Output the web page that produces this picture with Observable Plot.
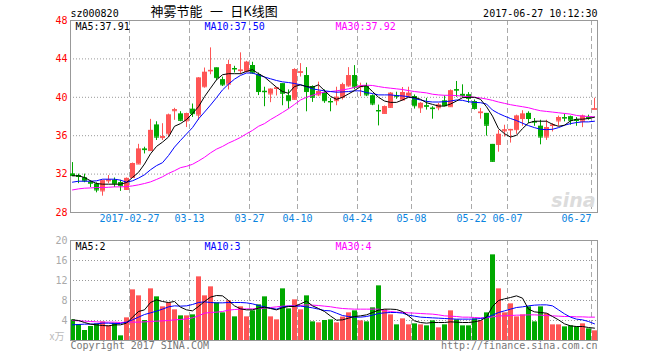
<!DOCTYPE html>
<html><head><meta charset="utf-8">
<script src="https://cdn.jsdelivr.net/npm/d3@7"></script>
<script src="https://cdn.jsdelivr.net/npm/@observablehq/plot@0.6"></script>
<style>
html,body{margin:0;padding:0;background:#fff;}
#wrap{position:relative;width:660px;height:360px;overflow:hidden;background:#fff;}
#price,#vol{position:absolute;left:0;}
#price{top:0;} #vol{top:230px;}
</style></head><body>
<div id="wrap"><div id="price"></div><div id="vol"></div></div>
<script>
// ---- data ----
const dateIndex = [10, 20, 30, 38, 48, 57, 67, 73, 87];
const dateLabels = ["2017-02-27", "03-13", "03-27", "04-10", "04-24", "05-08", "05-22", "06-07", "06-27"];
const priceTicks = [28, 32, 36, 40, 44, 48];
const priceGrid = [32, 36, 40, 44];
const volTicks = [4, 8, 12, 16, 20];
const volGrid = [4, 8, 12, 16];

const open = [32.0,31.85,31.6,31.15,30.95,30.25,31.3,31.35,31.1,30.4,
31.65,33.05,34.6,34.45,37.1,35.8,36.2,38.6,38.25,37.55,
38.75,38.15,41.1,42.75,43.05,41.82,41.37,43.0,42.78,42.7,
43.3,42.35,40.62,40.35,40.92,41.4,40.14,39.79,42.6,42.25,
41.12,40.25,40.49,39.56,39.65,40.0,41.19,42.25,41.1,41.12,
40.14,38.62,38.32,38.95,40.16,39.72,40.14,40.07,38.91,39.11,
38.86,38.91,39.61,39.02,40.79,40.3,40.25,39.54,38.4,38.32,
35.09,35.09,36.5,36.6,36.63,37.79,38.32,37.46,36.98,35.86,
37.06,37.54,37.88,37.96,37.63,37.51,37.88,38.75];
const close = [31.85,31.75,31.3,31.05,30.35,31.3,31.38,31.0,30.8,31.55,
33.1,34.6,34.55,36.55,35.85,35.9,38.15,38.7,37.6,38.3,
38.3,42.0,42.6,42.8,42.05,41.3,43.4,42.95,42.83,43.65,
42.53,40.6,40.58,40.84,40.97,40.42,39.65,42.88,42.65,40.6,
40.0,40.6,39.65,39.52,40.0,41.3,42.25,41.05,41.15,40.25,
39.3,38.58,39.02,40.42,40.12,40.49,40.42,39.12,39.37,39.07,
38.82,39.19,39.12,40.67,40.75,40.2,39.89,38.84,38.45,37.09,
33.33,36.14,36.6,36.65,38.04,38.25,37.79,37.42,35.86,36.84,
37.1,37.89,37.84,37.61,37.59,38.04,37.84,38.8];
const high = [33.2,32.0,32.0,31.3,31.1,31.35,31.85,31.6,31.35,31.6,
33.15,35.1,34.8,37.7,37.45,37.25,38.25,38.85,38.5,38.35,
39.3,42.05,43.05,45.15,43.05,42.1,43.86,43.23,44.63,43.75,
43.65,42.53,41.05,40.88,41.02,41.4,40.77,42.98,43.51,43.09,
41.19,41.58,40.77,39.89,41.05,41.47,43.09,43.3,41.47,41.47,
40.25,39.19,39.09,40.49,40.53,41.02,41.05,40.25,39.44,39.89,
39.02,39.37,40.14,40.77,41.65,41.3,40.49,39.72,38.84,38.32,
35.09,36.56,37.09,36.66,38.14,38.6,38.49,37.79,37.61,37.61,
37.26,38.04,38.25,38.04,37.89,38.14,38.14,39.9];
const low = [31.75,31.0,31.1,30.6,30.05,29.7,31.0,30.6,30.2,30.3,
31.6,33.0,34.1,34.4,35.5,35.5,35.85,37.6,37.45,36.85,
37.9,37.6,40.95,42.35,41.75,41.12,40.77,42.53,42.35,42.53,
42.4,40.18,39.02,39.44,40.14,39.12,38.77,39.72,42.11,38.49,
39.47,40.07,39.37,38.49,39.12,39.72,41.05,40.77,40.07,40.07,
39.12,37.02,38.25,38.84,39.79,39.65,40.0,38.77,38.32,38.67,
37.72,38.6,39.02,38.95,40.0,39.89,39.37,38.67,37.72,35.96,
33.23,34.28,35.86,35.23,36.14,36.98,37.26,36.98,35.05,35.51,
36.39,36.98,37.44,37.09,36.98,36.84,37.61,38.75];
const ma5 = [31.82,31.82,31.65,31.30,31.02,30.95,30.95,30.95,30.95,31.12,
31.65,32.18,33.05,34.11,34.88,35.33,35.86,36.98,37.26,37.68,
38.32,39.02,40.07,40.95,41.82,42.35,42.46,42.46,42.46,42.70,
42.88,42.46,42.11,41.58,41.05,40.60,40.42,41.12,41.30,41.12,
41.05,41.30,40.70,40.10,39.79,40.00,40.35,40.70,41.12,41.19,
40.60,40.00,39.61,39.47,39.47,39.72,40.00,40.00,39.79,39.44,
39.26,39.09,39.09,39.30,39.61,39.96,40.00,40.00,39.79,39.02,
38.04,36.74,36.21,35.86,36.04,36.74,37.33,37.51,37.51,37.51,
37.19,36.98,37.09,37.54,37.72,37.72,37.79,37.93];
const ma10 = [31.16,31.26,31.26,31.26,31.30,31.47,31.47,31.47,31.37,31.16,
31.30,31.58,31.93,32.45,32.88,33.19,33.93,34.81,35.51,36.18,
36.84,37.75,38.46,39.19,39.96,40.77,41.37,41.89,42.28,42.53,
42.53,42.32,42.11,41.93,41.75,41.61,41.54,41.44,41.30,41.12,
40.88,40.77,40.67,40.60,40.53,40.56,40.60,40.67,40.67,40.49,
40.39,40.25,40.25,40.25,40.18,40.14,40.07,39.86,39.72,39.58,
39.51,39.51,39.54,39.61,39.72,39.68,39.54,39.47,39.44,39.30,
38.67,38.32,38.04,37.79,37.58,37.30,37.05,36.84,36.67,36.63,
36.67,36.84,37.09,37.26,37.37,37.44,37.44,37.51];
const ma30 = [30.35,30.46,30.53,30.56,30.60,30.60,30.63,30.67,30.67,30.70,
30.77,30.88,31.02,31.19,31.44,31.72,32.07,32.35,32.67,32.81,
33.02,33.37,33.75,34.21,34.60,34.88,35.23,35.51,35.82,36.20,
36.55,36.98,37.26,37.68,38.04,38.42,38.81,39.26,39.72,40.00,
40.21,40.42,40.53,40.60,40.67,40.77,40.88,41.02,41.23,41.26,
41.23,41.12,41.02,40.95,40.88,40.81,40.70,40.60,40.53,40.46,
40.32,40.25,40.21,40.21,40.18,40.11,40.07,40.00,39.93,39.82,
39.68,39.51,39.37,39.23,39.12,39.02,38.91,38.74,38.60,38.53,
38.46,38.39,38.32,38.25,38.11,38.04,38.00,37.96];
const volume = [4.13,3.2,2.0,2.8,3.33,3.73,2.93,3.47,0.93,4.53,
10.13,8.93,4.0,10.33,8.73,6.73,7.53,6.13,4.93,4.93,
5.13,12.73,8.93,10.73,7.53,5.53,7.93,4.73,6.73,4.73,
5.93,7.13,8.73,4.73,4.13,10.33,6.33,8.13,6.13,8.93,
3.73,3.53,4.0,4.13,3.53,4.67,5.53,5.93,3.93,3.73,
6.53,10.93,6.13,5.13,3.13,4.33,3.13,3.33,3.13,2.93,
3.93,2.53,3.13,5.93,4.13,2.93,2.93,4.33,3.93,5.53,
17.13,10.33,5.53,7.33,4.73,5.13,6.73,3.73,6.73,5.33,
3.13,3.13,2.73,2.93,2.73,3.33,2.33,1.93];
const vma5 = [4.13,4.0,3.6,3.27,3.13,3.0,2.93,3.13,3.13,3.47,
4.67,5.8,6.13,7.6,8.13,7.8,7.6,7.8,6.67,6.13,
5.93,6.8,7.8,8.67,9.0,8.93,8.0,6.93,6.33,6.13,
6.13,6.47,6.67,6.4,6.13,6.53,6.8,6.8,7.33,7.87,
6.93,6.4,5.8,4.9,4.07,4.13,4.47,4.8,4.93,5.13,
5.6,6.07,6.27,6.27,6.2,5.8,4.93,3.93,3.6,3.47,
3.6,3.6,3.6,3.73,3.67,3.6,3.6,3.73,4.0,4.67,
6.8,8.0,8.33,8.6,8.93,8.47,6.27,5.73,5.6,5.47,
4.8,4.13,3.33,2.93,2.8,2.8,2.6,2.47];
const vma10 = [3.13,3.2,3.27,3.27,3.33,3.47,3.47,3.4,3.4,3.67,
4.13,4.67,5.2,5.53,5.87,6.27,6.73,6.93,6.87,6.93,
7.2,7.6,7.73,7.6,7.53,7.53,7.6,7.6,7.6,7.53,
7.33,7.0,6.73,6.47,6.27,6.73,6.87,6.87,6.87,6.73,
6.53,6.27,6.0,5.93,5.47,5.0,4.8,4.67,4.67,4.8,
5.07,5.4,5.53,5.6,5.6,5.47,5.07,4.87,4.67,4.6,
4.53,4.47,4.4,4.33,4.27,4.27,4.27,4.27,4.4,4.6,
5.07,5.6,5.93,6.27,6.6,6.73,6.93,7.07,7.13,7.13,
6.93,6.13,5.33,4.67,4.27,4.13,3.8,3.33];
const vma30 = [4.0,3.93,3.87,3.8,3.73,3.67,3.67,3.67,3.6,3.67,
3.67,3.67,3.73,3.8,3.87,3.93,4.0,4.13,4.2,4.33,
4.53,4.93,5.47,5.6,5.67,5.8,6.07,6.2,6.27,6.33,
6.33,6.4,6.47,6.6,6.73,6.87,6.93,6.93,7.0,7.13,
7.07,7.0,6.87,6.75,6.55,6.4,6.33,6.27,6.27,6.27,
6.27,6.27,6.0,5.8,5.67,5.6,5.53,5.47,5.4,5.33,
5.27,5.13,4.93,4.87,4.8,4.67,4.67,4.6,4.53,4.53,
4.73,4.93,4.93,5.0,5.07,5.07,5.13,5.13,5.07,5.0,
4.93,4.87,4.8,4.8,4.73,4.73,4.67,4.67];

const stockCode = "sz000820";
const titleText = "神雾节能 一 日K线图";
const timeText = "2017-06-27 10:12:30";
const priceMaLabels = ["MA5:37.91", "MA10:37.50", "MA30:37.92"];
const volMaLabels = ["MA5:2", "MA10:3", "MA30:4"];
const volUnit = "x万";
const copyright = "Copyright 2017 SINA.COM";
const siteUrl = "http://finance.sina.com.cn";

// ---- styles ----
const UP = "#ff5555", DOWN = "#00a800";
const MONO = "DejaVu Sans Mono";
const maColors = ["#000000", "#0000ff", "#ff00ff"];
const maDx = [5, 134, 265];

const rows = d3.range(open.length).map(i => ({
  i, o: open[i], c: close[i], h: high[i], l: low[i], v: volume[i],
  m5: ma5[i], m10: ma10[i], m30: ma30[i], v5: vma5[i], v10: vma10[i], v30: vma30[i],
  col: close[i] >= open[i] ? UP : DOWN
}));
const N = rows.length;
const xDomain = [-1/3, N - 0.5];
const lastTick = dateIndex.length - 1;
const tickRows = dateIndex.map((d, k) => ({x: d - 0.5, label: dateLabels[k], k}));

const price = Plot.plot({
  width: 660, height: 240,
  marginLeft: 70, marginRight: 63, marginTop: 20, marginBottom: 28,
  style: {fontFamily: MONO, fontSize: "10px", background: "transparent", overflow: "visible"},
  x: {domain: xDomain, axis: null},
  y: {domain: [28, 48], axis: null},
  marks: [
    Plot.ruleY(priceGrid, {stroke: "#999", strokeDasharray: "1,2"}),
    Plot.ruleX(tickRows, {x: "x", stroke: "#aaa", strokeDasharray: "5,3"}),
    Plot.frame({stroke: "#999"}),
    Plot.text(["sina"], {text: d => d, frameAnchor: "bottom-right", textAnchor: "end", lineAnchor: "bottom", dx: -2, dy: -6, fill: "#dcdcdc", fontFamily: "DejaVu Sans", fontSize: 19, fontWeight: "bold", fontStyle: "italic"}),
    Plot.ruleX(rows, {x: "i", y1: "l", y2: "h", stroke: "col"}),
    Plot.rect(rows, {x1: d => d.i - 0.5, x2: d => d.i + 0.5, y1: d => Math.min(d.o, d.c), y2: d => Math.max(d.o, d.c), fill: "col", insetLeft: 1}),
    Plot.ruleY(rows, {y: "o", x1: d => d.i - 0.5, x2: d => d.i + 0.5, insetLeft: 1, stroke: "col"}),
    Plot.ruleY(rows, {y: "c", x1: d => d.i - 0.5, x2: d => d.i + 0.5, insetLeft: 1, stroke: "col"}),
    Plot.line(rows, {x: "i", y: "m30", stroke: maColors[2], strokeWidth: 1}),
    Plot.line(rows, {x: "i", y: "m10", stroke: maColors[1], strokeWidth: 1}),
    Plot.line(rows, {x: "i", y: "m5", stroke: maColors[0], strokeWidth: 1}),
    Plot.text(priceTicks, {y: d => d, text: d => String(d), frameAnchor: "left", textAnchor: "end", dx: -3, fill: "#ff0000", fontFamily: MONO, fontSize: 10}),
    Plot.text(tickRows.filter(t => t.k < lastTick), {x: "x", text: "label", frameAnchor: "bottom", dy: 9, fill: "#0a84e0", fontFamily: MONO, fontSize: 10}),
    Plot.text(tickRows.filter(t => t.k === lastTick), {x: "x", text: "label", frameAnchor: "bottom", textAnchor: "end", dy: 9, fill: "#0a84e0", fontFamily: MONO, fontSize: 10}),
    Plot.text([stockCode], {text: d => d, frameAnchor: "top-left", textAnchor: "start", lineAnchor: "bottom", dy: -4, fill: "#000", fontFamily: MONO, fontSize: 10}),
    Plot.text([titleText], {text: d => d, frameAnchor: "top-left", textAnchor: "start", lineAnchor: "bottom", dx: 80, dy: -4.5, fill: "#000", fontFamily: "Noto Sans CJK SC", fontSize: 13}),
    Plot.text([timeText], {text: d => d, frameAnchor: "top-right", textAnchor: "end", lineAnchor: "bottom", dy: -4, fill: "#000", fontFamily: MONO, fontSize: 10}),
    ...priceMaLabels.map((t, k) => Plot.text([t], {text: d => d, frameAnchor: "top-left", textAnchor: "start", lineAnchor: "bottom", dx: maDx[k], dy: 9, fill: maColors[k], fontFamily: MONO, fontSize: 10}))
  ]
});
d3.select(price).selectAll("text").filter(function() { return this.textContent === titleText; }).style("word-spacing", "4.5px");
document.getElementById("price").appendChild(price);

const vol = Plot.plot({
  width: 660, height: 130,
  marginLeft: 70, marginRight: 63, marginTop: 10, marginBottom: 20,
  style: {fontFamily: MONO, fontSize: "10px", background: "transparent", overflow: "visible"},
  x: {domain: xDomain, axis: null},
  y: {domain: [0, 20], axis: null},
  marks: [
    Plot.ruleY(volGrid, {stroke: "#999", strokeDasharray: "1,2"}),
    Plot.ruleX(tickRows, {x: "x", stroke: "#aaa", strokeDasharray: "5,3"}),
    Plot.rect(rows, {x1: d => d.i - 0.5, x2: d => d.i + 0.5, y1: 0, y2: "v", fill: "col", insetLeft: 1}),
    Plot.frame({stroke: "#999"}),
    Plot.line(rows, {x: "i", y: "v30", stroke: maColors[2], strokeWidth: 1}),
    Plot.line(rows, {x: "i", y: "v10", stroke: maColors[1], strokeWidth: 1}),
    Plot.line(rows, {x: "i", y: "v5", stroke: maColors[0], strokeWidth: 1}),
    Plot.text(volTicks, {y: d => d, text: d => String(d), frameAnchor: "left", textAnchor: "end", dx: -3, fill: "#aaa", fontFamily: MONO, fontSize: 10}),
    Plot.text([volUnit], {text: d => d, frameAnchor: "bottom-left", textAnchor: "end", dx: -6, dy: -1, fill: "#bbb", fontFamily: "Noto Sans CJK SC", fontSize: 10}),
    ...volMaLabels.map((t, k) => Plot.text([t], {text: d => d, frameAnchor: "top-left", textAnchor: "start", lineAnchor: "bottom", dx: maDx[k], dy: 9, fill: maColors[k], fontFamily: MONO, fontSize: 10})),
    Plot.text([copyright], {text: d => d, frameAnchor: "bottom-left", textAnchor: "start", lineAnchor: "bottom", dy: 8.5, fill: "#777", fontFamily: MONO, fontSize: 10}),
    Plot.text([siteUrl], {text: d => d, frameAnchor: "bottom-right", textAnchor: "end", lineAnchor: "bottom", dy: 8.5, fill: "#777", fontFamily: MONO, fontSize: 10})
  ]
});
document.getElementById("vol").appendChild(vol);
</script>
</body></html>
